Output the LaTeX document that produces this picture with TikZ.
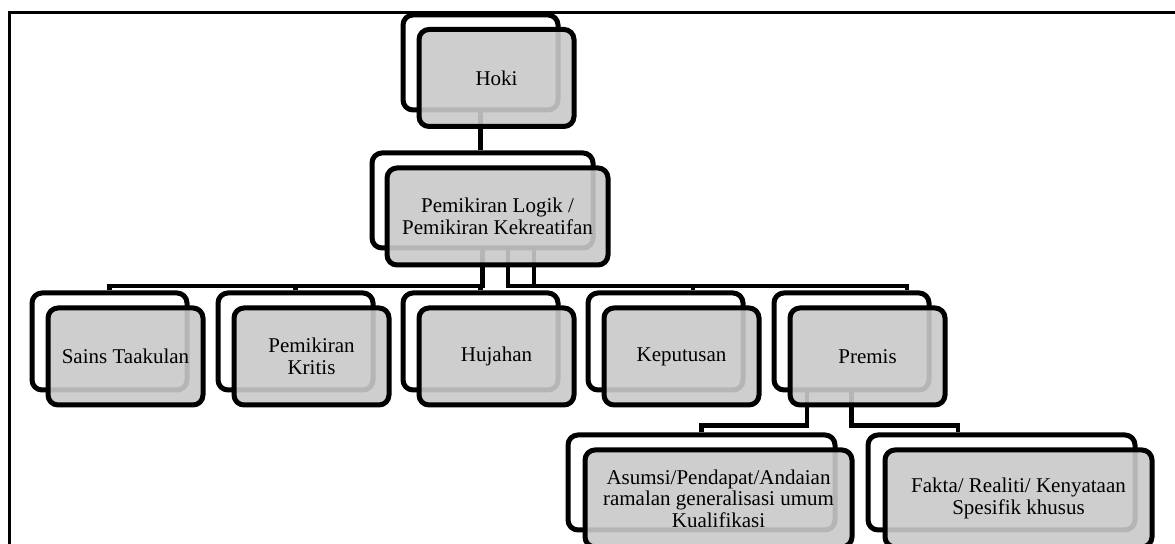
\documentclass[tikz,border=0pt]{standalone}
\usepackage{fontspec}
\setmainfont{Liberation Serif}
\usepackage{tikz}

\tikzset{
    backbox/.style={rectangle, rounded corners=5pt, draw=black, line width=2.5pt, fill=white, minimum height=47.5pt},
    frontbox/.style={backbox, fill=black!21, fill opacity=0.9, text opacity=1, align=center, minimum height=48.5pt, font=\fontsize{10.5}{10.8}\selectfont},
    link/.style={line width=2.25pt, color=black}
}

\begin{document}
\begin{tikzpicture}
            [every node/.style={inner sep=0pt}]
                \useasboundingbox (0pt, 0pt) rectangle (587.5pt, -272pt);
                \clip (0pt, 0pt) rectangle (587.5pt, -272pt);
                \draw [line width=1.5pt] (4.5pt, -280pt) -- (4.5pt, -6.5pt) -- (590pt, -6.5pt);
                \node (hokiB) [backbox, minimum width=77.5pt] at (240.25pt, -31.25pt) {};
                \node (logikB) [backbox, minimum width=110.5pt] at (241.25pt, -100.25pt) {};
                \node (sainsB) [backbox, minimum width=77.5pt, minimum height=48.5pt] at (54.75pt, -170.75pt) {};
                \node (kritisB) [backbox, minimum width=77.5pt, minimum height=48.5pt] at (147.75pt, -170.75pt) {};
                \node (hujahanB) [backbox, minimum width=77.5pt, minimum height=48.5pt] at (240.25pt, -170.75pt) {};
                \node (keputusanB) [backbox, minimum width=77.5pt, minimum height=48.5pt] at (332.75pt, -170.75pt) {};
                \node (premisB) [backbox, minimum width=77.5pt, minimum height=48.5pt] at (425.75pt, -170.75pt) {};
                \node (asumsiB) [backbox, minimum width=133.5pt] at (350.75pt, -241.25pt) {};
                \node (faktaB) [backbox, minimum width=133.5pt] at (500.75pt, -241.25pt) {};
                \draw [link] (hokiB.south) -- (hokiB.south |- logikB.north);
                \draw [link] (logikB.south) -- ++(0pt, -17.75pt) -| (sainsB.north);
                \draw [link] (logikB.south) -- ++(0pt, -17.75pt) -| (kritisB.north);
                \draw [link] (logikB.south) -- ++(0pt, -17.75pt) -| (hujahanB.north);
                \draw [link] ([xshift=12.75pt]logikB.south) -- ++(0pt, -17.75pt) -| ([xshift=13.75pt]keputusanB.north);
                \draw [link] ([xshift=25.75pt]logikB.south) -- ++(0pt, -17.75pt) -| ([xshift=27.75pt]premisB.north);
                \draw [link] ([xshift=-22.25pt]premisB.south) -- ++(0pt, -16.5pt) -| (asumsiB.north);
                \draw [link] (premisB.south) -- ++(0pt, -16.5pt) -| ([xshift=-21.75pt]faktaB.north);
                \node (hoki) [frontbox, minimum width=77.5pt] at ([shift={(8pt,-7.75pt)}]hokiB) {Hoki};
                \node (logik) [frontbox, minimum width=110.5pt] at ([shift={(7.5pt,-8pt)}]logikB) {Pemikiran Logik /\\Pemikiran Kekreatifan};
                \node (sains) [frontbox, minimum width=77.5pt] at ([shift={(8pt,-7.5pt)}]sainsB) {Sains Taakulan};
                \node (kritis) [frontbox, minimum width=77.5pt] at ([shift={(8pt,-7.5pt)}]kritisB) {Pemikiran\\Kritis};
                \node (hujahan) [frontbox, minimum width=77.5pt] at ([shift={(8pt,-7.5pt)}]hujahanB) {Hujahan};
                \node (keputusan) [frontbox, minimum width=77.5pt] at ([shift={(8pt,-7.5pt)}]keputusanB) {Keputusan};
                \node (premis) [frontbox, minimum width=77.5pt] at ([shift={(8pt,-7.5pt)}]premisB) {Premis};
                \node (asumsi) [frontbox, minimum width=133.5pt] at ([shift={(8.5pt,-8pt)}]asumsiB) {Asumsi/Pendapat/Andaian\\ramalan generalisasi umum\\Kualifikasi};
                \node (fakta) [frontbox, minimum width=133.5pt] at ([shift={(8.5pt,-8pt)}]faktaB) {Fakta/ Realiti/ Kenyataan\\Spesifik khusus};
            \end{tikzpicture}
\end{document}
